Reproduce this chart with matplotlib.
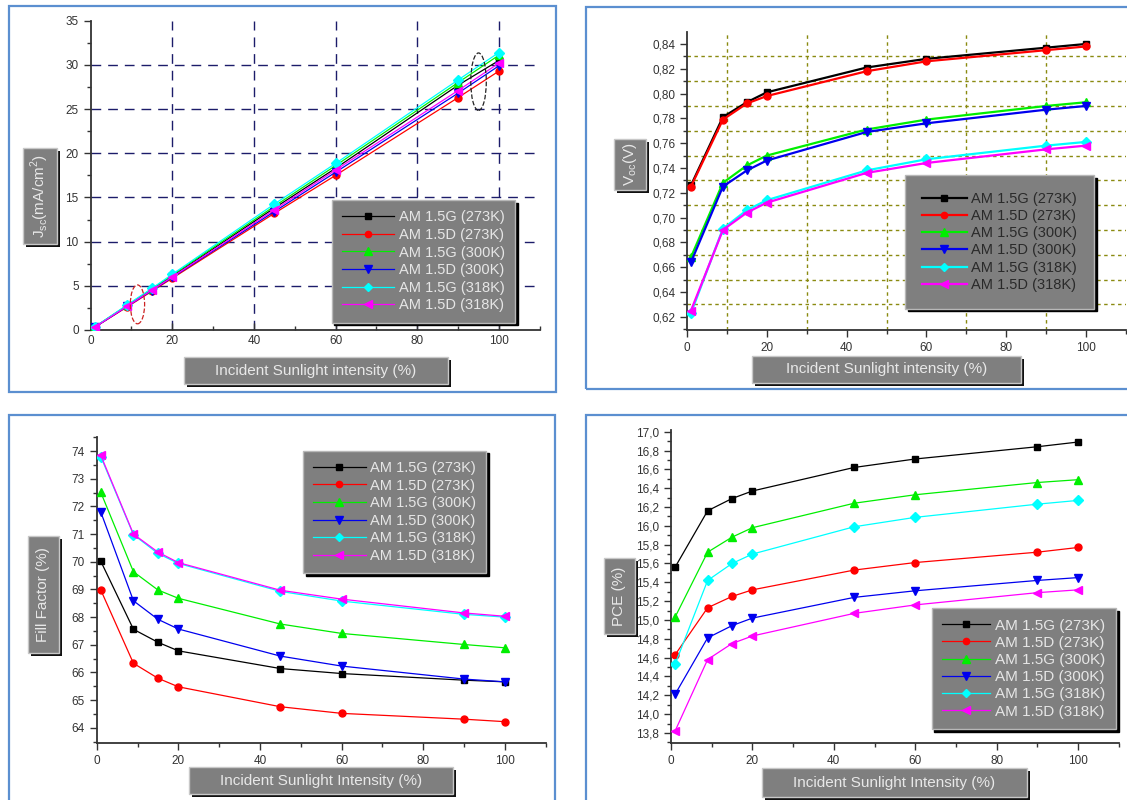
import numpy as np
import matplotlib
matplotlib.use('Agg')
import matplotlib.pyplot as plt
from matplotlib.patches import Rectangle, Ellipse
from matplotlib.ticker import MultipleLocator, FuncFormatter

plt.rcParams['font.family'] = ['Liberation Sans', 'DejaVu Sans']
plt.rcParams['mathtext.fontset'] = 'custom'
plt.rcParams['mathtext.rm'] = 'Liberation Sans'

# incident sunlight intensity (%)
intensity = [1, 9, 15, 20, 45, 60, 90, 100]
series_labels = ['AM 1.5G (273K)', 'AM 1.5D (273K)', 'AM 1.5G (300K)',
                 'AM 1.5D (300K)', 'AM 1.5G (318K)', 'AM 1.5D (318K)']

# short circuit current density (mA/cm2)
jsc_273g = [0.32, 2.75, 4.55, 6.10, 13.80, 18.30, 27.70, 30.50]
jsc_273d = [0.30, 2.62, 4.38, 5.85, 13.20, 17.50, 26.30, 29.30]
jsc_300g = [0.33, 2.80, 4.65, 6.20, 14.00, 18.60, 28.00, 31.10]
jsc_300d = [0.30, 2.68, 4.45, 5.95, 13.40, 17.85, 26.80, 29.90]
jsc_318g = [0.34, 2.85, 4.70, 6.30, 14.25, 18.85, 28.30, 31.40]
jsc_318d = [0.31, 2.70, 4.50, 6.00, 13.60, 18.10, 27.10, 30.20]

# open circuit voltage (V)
voc_273g = [0.726, 0.781, 0.793, 0.801, 0.821, 0.828, 0.837, 0.840]
voc_273d = [0.725, 0.779, 0.792, 0.798, 0.818, 0.826, 0.835, 0.838]
voc_300g = [0.668, 0.728, 0.742, 0.750, 0.771, 0.779, 0.790, 0.793]
voc_300d = [0.664, 0.725, 0.738, 0.746, 0.769, 0.776, 0.787, 0.790]
voc_318g = [0.623, 0.691, 0.706, 0.714, 0.738, 0.747, 0.758, 0.761]
voc_318d = [0.625, 0.690, 0.704, 0.712, 0.736, 0.744, 0.755, 0.758]

# fill factor (%)
ff_273g = [70.02, 67.56, 67.09, 66.78, 66.14, 65.96, 65.72, 65.66]
ff_273d = [68.98, 66.33, 65.79, 65.48, 64.76, 64.52, 64.31, 64.22]
ff_300g = [72.51, 69.64, 68.98, 68.68, 67.75, 67.41, 67.01, 66.89]
ff_300d = [71.80, 68.59, 67.92, 67.57, 66.59, 66.23, 65.76, 65.66]
ff_318g = [73.80, 70.98, 70.30, 69.94, 68.93, 68.58, 68.10, 68.00]
ff_318d = [73.85, 71.00, 70.35, 69.97, 68.97, 68.65, 68.15, 68.03]

# power conversion efficiency (%)
pce_273g = [15.56, 16.16, 16.29, 16.37, 16.62, 16.71, 16.84, 16.89]
pce_273d = [14.63, 15.13, 15.25, 15.32, 15.53, 15.61, 15.72, 15.77]
pce_300g = [15.03, 15.72, 15.88, 15.98, 16.24, 16.33, 16.46, 16.49]
pce_300d = [14.21, 14.81, 14.94, 15.02, 15.24, 15.31, 15.42, 15.45]
pce_318g = [14.53, 15.42, 15.60, 15.70, 15.99, 16.09, 16.23, 16.27]
pce_318d = [13.82, 14.58, 14.75, 14.83, 15.07, 15.16, 15.29, 15.32]

colors = ['#000000', '#ff0000', '#00ee00', '#0000ee', '#00ffff', '#ff00ff']
markers = ['s', 'o', '^', 'v', 'D', '<']
msizes = [5.0, 5.0, 6.0, 6.0, 4.8, 6.0]

W, H = 1127, 800
fig = plt.figure(figsize=(W / 100, H / 100), dpi=100)


def px_rect(x0, y0, x1, y1):
    # pixel box (top-left origin) -> figure fraction rect
    return [x0 / W, 1 - y1 / H, (x1 - x0) / W, (y1 - y0) / H]


def panel_border(x0, y0, x1, y1):
    fig.patches.append(Rectangle((x0 / W, 1 - y1 / H), (x1 - x0) / W, (y1 - y0) / H,
                                 transform=fig.transFigure, fill=False,
                                 edgecolor='#5b8fd0', lw=1.6, zorder=0))


def label_box(x0, y0, x1, y1, text, rotation=0, size=11):
    fig.patches.append(Rectangle(((x0 + 3) / W, 1 - (y1 + 3) / H), (x1 - x0) / W, (y1 - y0) / H,
                                 transform=fig.transFigure, facecolor='#111111',
                                 edgecolor='none', zorder=1))
    fig.patches.append(Rectangle((x0 / W, 1 - y1 / H), (x1 - x0) / W, (y1 - y0) / H,
                                 transform=fig.transFigure, facecolor='#7f7f7f',
                                 edgecolor='#c8c8c8', lw=1, zorder=2))
    fig.text((x0 + x1) / 2 / W, 1 - (y0 + y1) / 2 / H, text, rotation=rotation,
             ha='center', va='center', color='#e8e8e8', fontsize=size, zorder=3)


def comma_fmt(decimals):
    return FuncFormatter(lambda v, pos: f'{v:.{decimals}f}'.replace('.', ','))


def style_axes(ax, xdir='out'):
    for s in ['top', 'right']:
        ax.spines[s].set_visible(False)
    for s in ['left', 'bottom']:
        ax.spines[s].set_color('#333333')
        ax.spines[s].set_linewidth(1.3)
    ax.set_xlim(0, 110)
    ax.xaxis.set_major_locator(MultipleLocator(20))
    ax.xaxis.set_minor_locator(MultipleLocator(10))
    ax.tick_params(axis='y', which='major', direction='out', length=5, width=1, colors='#333333',
                   labelsize=8.5, labelcolor='#333333')
    ax.tick_params(axis='y', which='minor', direction='out', length=3, width=1, colors='#333333')
    ax.tick_params(axis='x', which='major', direction=xdir, length=5, width=1, colors='#333333',
                   labelsize=8.5, labelcolor='#333333')
    ax.tick_params(axis='x', which='minor', direction=xdir, length=3, width=1, colors='#333333')
    ax.set_facecolor('none')


def add_legend(ax, handles, x0, y0, fs=10.5, spacing=0.25, pad=0.7, hl=3.6, tc='#e6e6e6'):
    leg = ax.legend(handles, series_labels, loc='upper left', bbox_to_anchor=(x0 / W, 1 - y0 / H),
                    bbox_transform=fig.transFigure, borderaxespad=0, fontsize=fs,
                    labelcolor=tc, frameon=True, fancybox=False, framealpha=1,
                    facecolor='#7f7f7f', edgecolor='#b8b8b8', handlelength=hl,
                    handletextpad=0.3, labelspacing=spacing, borderpad=pad, numpoints=1,
                    markerscale=0.9, shadow={'color': 'black', 'alpha': 1})
    leg.get_frame().set_linewidth(1)
    leg.set_zorder(10)
    return leg


panel_border(9, 6, 556, 392)
panel_border(586, 7, 1140, 389)
panel_border(9, 415, 555, 812)
panel_border(586, 415, 1140, 812)

# ---- Jsc panel ----
ax1 = fig.add_axes(px_rect(90.5, 20.7, 539.8, 330))
style_axes(ax1, xdir='in')
ax1.set_ylim(0, 35)
ax1.yaxis.set_major_locator(MultipleLocator(5))
ax1.yaxis.set_minor_locator(MultipleLocator(2.5))
for v in [20, 40, 60, 80, 100]:
    ax1.axvline(v, color='#1c1c6a', lw=1, ls=(0, (7, 5)), zorder=0.5)
for v in [5, 10, 15, 20, 25, 30]:
    ax1.axhline(v, color='#1c1c6a', lw=1, ls=(0, (7, 5)), zorder=0.5)
jsc = [jsc_273g, jsc_273d, jsc_300g, jsc_300d, jsc_318g, jsc_318d]
h1 = []
for ys, c, m, ms in zip(jsc, colors, markers, msizes):
    h1 += ax1.plot(intensity, ys, color=c, marker=m, ms=ms, lw=0.9, zorder=3)
ax1.add_patch(Ellipse((11.5, 2.9), 3.5, 4.4, fill=False, ec='#cc2222', ls='--', lw=0.9, zorder=4))
ax1.add_patch(Ellipse((95, 28.1), 3.8, 6.5, fill=False, ec='#222222', ls='--', lw=0.9, zorder=4))
add_legend(ax1, h1, 331.7, 200)
label_box(23, 148, 57, 244, r'J$_{\mathrm{sc}}$(mA/cm$^{2}$)', rotation=90)
label_box(184, 357, 448, 384, 'Incident Sunlight intensity (%)')

# ---- Voc panel ----
ax2 = fig.add_axes(px_rect(687, 32.3, 1126, 330))
style_axes(ax2)
ax2.set_ylim(0.6093, 0.8494)
ax2.yaxis.set_major_locator(MultipleLocator(0.02))
ax2.yaxis.set_minor_locator(MultipleLocator(0.01))
ax2.yaxis.set_major_formatter(comma_fmt(2))
for v in [10, 30, 50, 70, 90]:
    ax2.axvline(v, color='#8a8a10', lw=1, ls=(0, (2.5, 2.5)), zorder=0.5)
for v in np.arange(0.63, 0.84, 0.02):
    ax2.axhline(v, color='#8a8a10', lw=1, ls=(0, (2.5, 2.5)), zorder=0.5)
voc = [voc_273g, voc_273d, voc_300g, voc_300d, voc_318g, voc_318d]
h2 = []
for ys, c, m, ms in zip(voc, colors, markers, msizes):
    h2 += ax2.plot(intensity, ys, color=c, marker=m, ms=ms, lw=1.6, zorder=3)
add_legend(ax2, h2, 905, 175, fs=10.5, spacing=0.22, pad=1.15, hl=3.1, tc='#2a2a2a')
label_box(614, 139, 646, 190, r'V$_{\mathrm{oc}}$(V)', rotation=90)
label_box(752, 356, 1021, 383, 'Incident Sunlight intensity (%)')

# ---- Fill factor panel ----
ax3 = fig.add_axes(px_rect(96.7, 437.3, 545.8, 742.7))
style_axes(ax3)
ax3.set_ylim(63.46, 74.5)
ax3.yaxis.set_major_locator(MultipleLocator(1))
ax3.yaxis.set_minor_locator(MultipleLocator(0.5))
ff = [ff_273g, ff_273d, ff_300g, ff_300d, ff_318g, ff_318d]
h3 = []
for ys, c, m, ms in zip(ff, colors, markers, msizes):
    h3 += ax3.plot(intensity, ys, color=c, marker=m, ms=ms, lw=0.9, zorder=3)
add_legend(ax3, h3, 303, 450.7)
label_box(28, 536, 59, 653, 'Fill Factor (%)', rotation=90)
label_box(189, 767, 453, 794, 'Incident Sunlight Intensity (%)')

# ---- PCE panel ----
ax4 = fig.add_axes(px_rect(671, 429.8, 1118.7, 743.3))
style_axes(ax4)
ax4.set_ylim(13.69, 17.02)
ax4.yaxis.set_major_locator(MultipleLocator(0.2))
ax4.yaxis.set_minor_locator(MultipleLocator(0.1))
ax4.yaxis.set_major_formatter(comma_fmt(1))
pce = [pce_273g, pce_273d, pce_300g, pce_300d, pce_318g, pce_318d]
h4 = []
for ys, c, m, ms in zip(pce, colors, markers, msizes):
    h4 += ax4.plot(intensity, ys, color=c, marker=m, ms=ms, lw=0.9, zorder=3)
add_legend(ax4, h4, 931.7, 608, fs=11, spacing=0.21, pad=0.69, hl=3.15)
label_box(604, 558, 635, 634, 'PCE (%)', rotation=90)
label_box(762, 768, 1027, 797, 'Incident Sunlight Intensity (%)')

fig.savefig('out.png', dpi=100)
